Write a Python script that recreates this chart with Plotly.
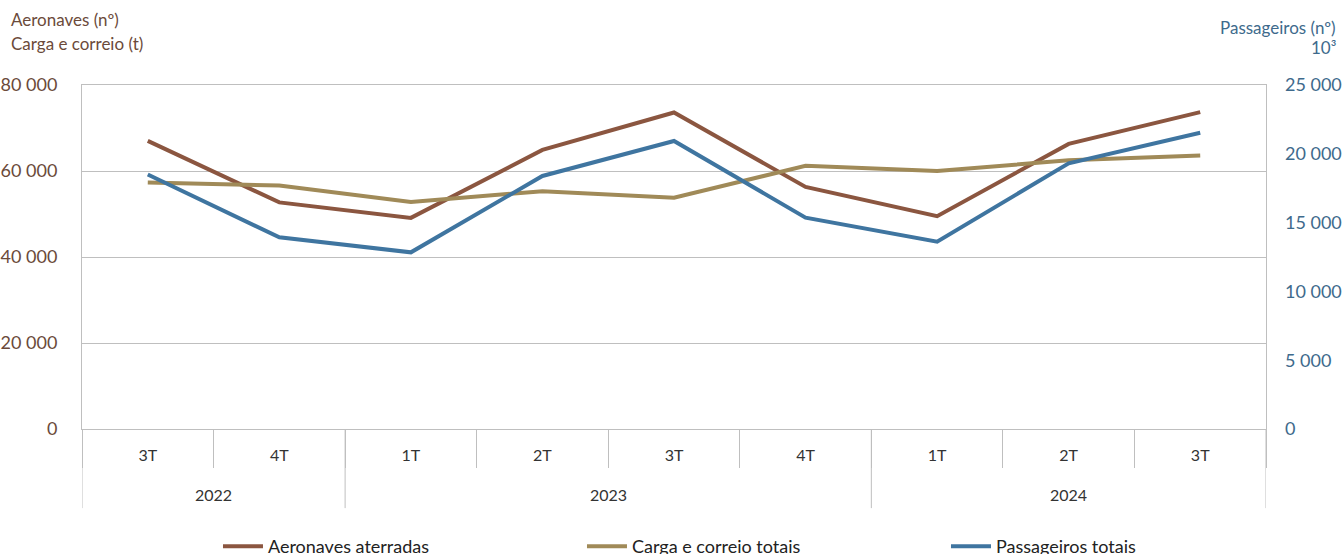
import plotly.graph_objects as go

years = ["2022", "2022", "2023", "2023", "2023", "2023", "2024", "2024", "2024"]
quarters = ["3T", "4T", "1T", "2T", "3T", "4T", "1T", "2T", "3T"]

aeronaves = [67000, 52700, 49100, 64900, 73600, 56300, 49500, 66300, 73700]
carga = [57300, 56600, 52800, 55300, 53800, 61200, 60000, 62500, 63600]
passageiros = [18500, 13930, 12840, 18390, 20930, 15360, 13610, 19310, 21530]

BROWN = "#8B5640"
TAN = "#A08A58"
BLUE = "#3F75A0"
LEFT_TXT = "#6B4A3A"
RIGHT_TXT = "#3E6A8C"
GRID = "#BFBFBF"
FONT = "Lato"

xs = list(range(len(quarters)))

fig = go.Figure()
fig.add_trace(go.Scatter(x=xs, y=aeronaves, name="Aeronaves aterradas", mode="lines",
                         line=dict(color=BROWN, width=4)))
fig.add_trace(go.Scatter(x=xs, y=carga, name="Carga e correio totais", mode="lines",
                         line=dict(color=TAN, width=4)))
fig.add_trace(go.Scatter(x=xs, y=passageiros, name="Passageiros totais", mode="lines",
                         line=dict(color=BLUE, width=4), yaxis="y2"))

fig.update_layout(
    width=1344, height=554,
    margin=dict(l=82, r=78, t=85, b=125, autoexpand=False),
    plot_bgcolor="white", paper_bgcolor="white",
    separators=", ",
    font=dict(family=FONT, size=16, color="#333333"),
    showlegend=True,
    legend=dict(orientation="h", x=0.576, xanchor="center", y=-0.2876, yanchor="top",
                font=dict(size=18, color="#222222"), entrywidth=309, itemwidth=40),
    xaxis=dict(range=[-0.5, len(quarters) - 0.5], tickvals=xs, ticktext=quarters,
               showline=True, linecolor=GRID, linewidth=1, mirror=True,
               ticks="", showgrid=False, zeroline=False, automargin=False,
               ticklabelstandoff=12,
               minor=dict(tick0=0.5, dtick=1, ticks="outside", ticklen=38,
                          tickcolor=GRID, showgrid=False),
               tickfont=dict(size=16, color="#333333")),
    yaxis=dict(range=[0, 80000], tickvals=[0, 20000, 40000, 60000, 80000],
               tickformat=",d", showgrid=True, gridcolor=GRID, gridwidth=1,
               showline=True, linecolor=GRID, mirror=True, zeroline=False,
               automargin=False,
               tickfont=dict(size=18, color=LEFT_TXT), ticks="", ticklabelstandoff=20),
    yaxis2=dict(range=[0, 25000], tickvals=[0, 5000, 10000, 15000, 20000, 25000],
                tickformat=",d", overlaying="y", side="right", showgrid=False,
                zeroline=False, showline=False, automargin=False,
                tickfont=dict(size=18, color=RIGHT_TXT), ticklabelstandoff=18),
)

# year group dividers and labels, derived from the years list
bounds = [-0.5]
for i in range(1, len(years)):
    if years[i] != years[i - 1]:
        bounds.append(i - 0.5)
bounds.append(len(years) - 0.5)
for b in bounds:
    fig.add_shape(type="line", xref="x", yref="paper", x0=b, x1=b, y0=0, y1=-0.23,
                  line=dict(color=GRID, width=1))
for a, b in zip(bounds[:-1], bounds[1:]):
    fig.add_annotation(text=years[int(a + 0.5)], xref="x", yref="paper", x=(a + b) / 2,
                       y=-0.189, showarrow=False, yanchor="middle",
                       font=dict(size=16, color="#333333"))

fig.add_annotation(text="Aeronaves (nº)", xref="paper", yref="paper", x=-0.062, y=1.189,
                   xanchor="left", yanchor="middle", showarrow=False,
                   font=dict(size=17, color=LEFT_TXT))
fig.add_annotation(text="Carga e correio (t)", xref="paper", yref="paper", x=-0.062, y=1.122,
                   xanchor="left", yanchor="middle", showarrow=False,
                   font=dict(size=17, color=LEFT_TXT))
fig.add_annotation(text="Passageiros (nº)", xref="paper", yref="paper", x=1.0608, y=1.166,
                   xanchor="right", yanchor="middle", showarrow=False,
                   font=dict(size=17, color=RIGHT_TXT))
fig.add_annotation(text="10³", xref="paper", yref="paper", x=1.0608, y=1.108,
                   xanchor="right", yanchor="middle", showarrow=False,
                   font=dict(size=17, color=RIGHT_TXT))

fig.write_html("out.html", config={"displayModeBar": False},
               post_script="document.body.style.margin='0px';document.body.style.overflow='hidden';")
